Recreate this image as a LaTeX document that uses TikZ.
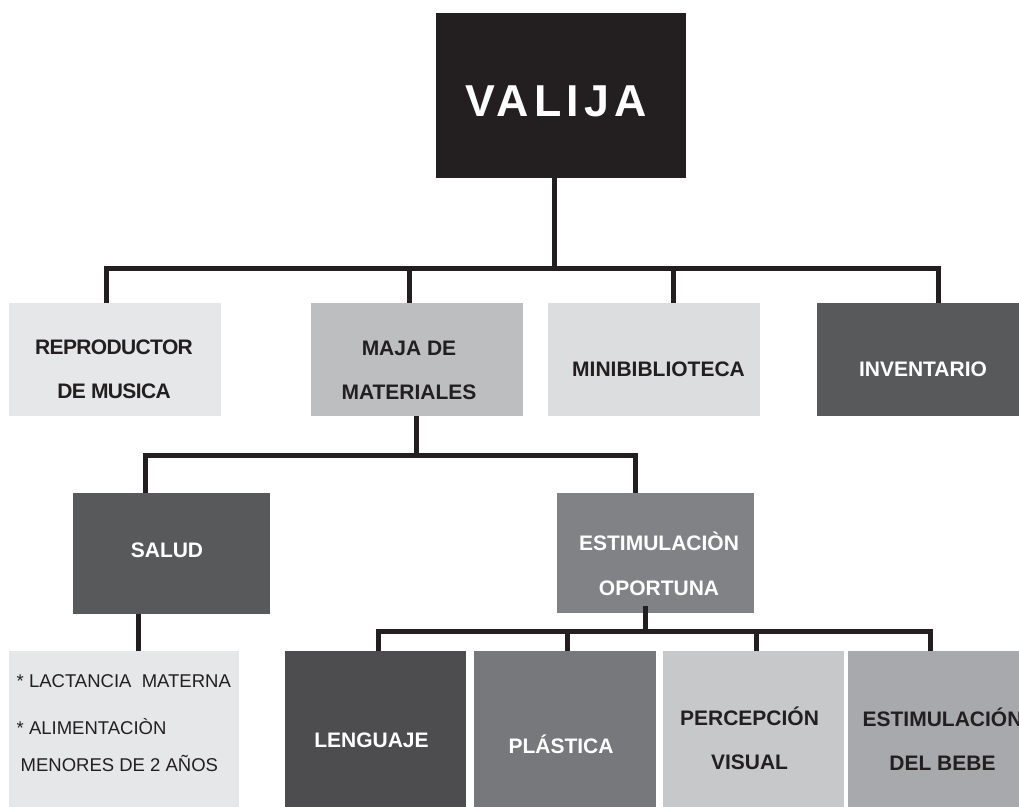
\documentclass[tikz,border=0pt]{standalone}
\usepackage{fontspec}
\setmainfont{Liberation Sans}
\usepackage{tikz}

\definecolor{inkblack}{HTML}{231F20}
\definecolor{paleA}{HTML}{E6E7E8}
\definecolor{paleB}{HTML}{DCDDDE}
\definecolor{paleC}{HTML}{C7C8CA}
\definecolor{midA}{HTML}{BCBEC0}
\definecolor{midB}{HTML}{808285}
\definecolor{midC}{HTML}{77787B}
\definecolor{midD}{HTML}{A7A9AC}
\definecolor{darkA}{HTML}{58595B}
\definecolor{darkB}{HTML}{4D4D4F}

\tikzset{
  box/.style={rectangle, inner sep=0pt, draw=none},
  link/.style={draw=inkblack, line width=5pt},
  btext/.style={inner sep=0pt, align=center, text=inkblack,
    font=\bfseries\fontsize{21}{44}\selectfont},
  wtext/.style={btext, text=white}
}

\begin{document}
\begin{tikzpicture}[x=1pt,y=-1pt]
  \useasboundingbox (0,0) rectangle (1019,806);

  %% Boxes: name/x/y/width/height/colour
  \foreach \n/\x/\y/\w/\h/\c in {
      valija/561/95.5/250/165/inkblack,
      repro/115/359.5/212/113/paleA,
      maja/417/359.5/212/113/midA,
      mini/654/359.5/212/113/paleB,
      inv/923/359.5/212/113/darkA,
      salud/171.5/553.5/197/121/darkA,
      oportuna/655.5/553/197/120/midB,
      lactancia/124/741/230/180/paleA,
      lenguaje/375.5/741/181/180/darkB,
      plastica/564.5/741/182/180/midC,
      percepcion/753.5/741/181/180/paleC,
      bebe/938.5/741/181/180/midD}
  {
    \node[box, fill=\c, minimum width=\w*1pt, minimum height=\h*1pt] (\n) at (\x,\y) {};
  }

  %% Labels of the boxes
  \node[inner sep=0pt, text=white,
    font=\bfseries\fontsize{44.7}{50}\selectfont\addfontfeature{LetterSpace=11.6}]
    (valijaT) at (556,101) {VALIJA};
  \node[btext, font=\bfseries\fontsize{21}{44}\selectfont\addfontfeature{LetterSpace=-3}]
    (reproT) at (114,369.5) {REPRODUCTOR\\DE MUSICA};
  \node[btext] (majaT) at (409,370) {MAJA DE\\MATERIALES};
  \node[btext] (miniT) at (658.5,369.5) {MINIBIBLIOTECA};
  \node[wtext] (invT) at (923,369.5) {INVENTARIO};
  \node[wtext] (saludT) at (167,550.5) {SALUD};
  \node[wtext, font=\bfseries\fontsize{21}{45}\selectfont]
    (oportunaT) at (659,564) {ESTIMULACIÒN\\OPORTUNA};
  \node[wtext] (lenguajeT) at (371.5,740) {LENGUAJE};
  \node[wtext] (plasticaT) at (561,744) {PLÁSTICA};
  \node[btext] (percepcionT) at (749.5,738.5) {PERCEPCIÓN\\VISUAL};
  \node[btext] (bebeT) at (942.5,739) {ESTIMULACIÓN\\DEL BEBE};
  \node[inner sep=0pt, anchor=north west, align=left, text=inkblack,
    font=\fontsize{18.5}{37}\selectfont]
    (lactanciaT) at (16.5,674)
    {* LACTANCIA\ \ MATERNA\\[10pt]* ALIMENTACIÒN\\\hspace*{4pt}MENORES DE 2 AÑOS};

  %% Junctions of the tree
  \coordinate (top) at (554,268);
  \coordinate (t1) at (106,268);
  \coordinate (t2) at (409,268);
  \coordinate (t3) at (673,268);
  \coordinate (t4) at (938,268);
  \coordinate (m0) at (416,455);
  \coordinate (m1) at (145,455);
  \coordinate (m2) at (635,455);
  \coordinate (s0) at (138,640);
  \coordinate (o0) at (645,631.5);
  \coordinate (o1) at (378,631.5);
  \coordinate (o2) at (567,631.5);
  \coordinate (o3) at (756,631.5);
  \coordinate (o4) at (930,631.5);

  %% Connectors
  \draw[link] (valija.south -| top) -- (top);
  \draw[link] (repro.north -| t1) -- (t1) -- (t4) -- (inv.north -| t4);
  \draw[link] (t2) -- (maja.north -| t2);
  \draw[link] (t3) -- (mini.north -| t3);

  \draw[link] (maja.south -| m0) -- (m0);
  \draw[link] (salud.north -| m1) -- (m1) -- (m2) -- (oportuna.north -| m2);

  \draw[link] (salud.south -| s0) -- (lactancia.north -| s0);

  \draw[link] ([yshift=7pt]oportuna.south -| o0) -- (o0);
  \draw[link] (lenguaje.north -| o1) -- (o1) -- (o4) -- (bebe.north -| o4);
  \draw[link] (o2) -- (plastica.north -| o2);
  \draw[link] (o3) -- (percepcion.north -| o3);
\end{tikzpicture}
\end{document}
